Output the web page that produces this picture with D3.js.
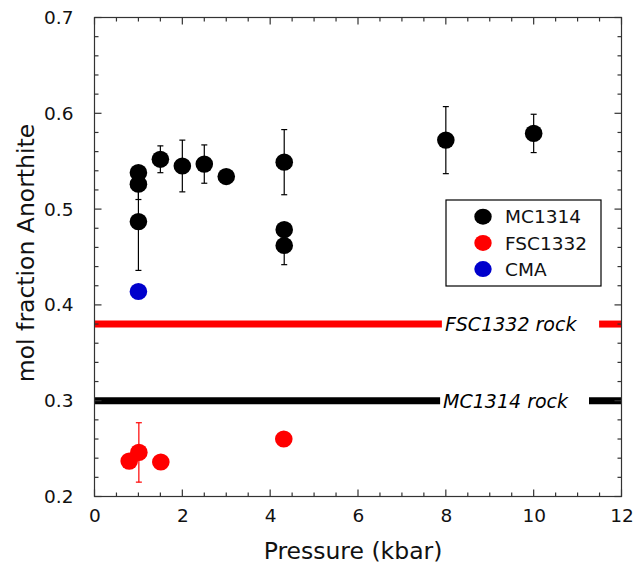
<!DOCTYPE html>
<html>
<head>
<meta charset="utf-8">
<script src="https://cdn.jsdelivr.net/npm/d3@7"></script>
<style>
  html, body { margin: 0; padding: 0; background: #fff; }
  text { font-family: "DejaVu Sans", Verdana, sans-serif; }
</style>
</head>
<body>
<svg id="chart" width="644" height="571"></svg>
<script>
// ---- data ----
const xTicks = [0, 2, 4, 6, 8, 10, 12];
const yTicks = [0.2, 0.3, 0.4, 0.5, 0.6, 0.7];
const xTickLabels = ["0", "2", "4", "6", "8", "10", "12"];
const yTickLabels = ["0.2", "0.3", "0.4", "0.5", "0.6", "0.7"];

// MC1314: pressure, anorthite, error (null = no bar)
const mcPressure = [1.0, 1.0, 1.0, 1.5, 2.0, 2.5, 3.0, 4.32, 4.32, 4.32, 8.0, 10.0];
const mcAn       = [0.538, 0.526, 0.487, 0.552, 0.545, 0.547, 0.534, 0.549, 0.4785, 0.462, 0.572, 0.579];
const mcErr      = [null, 0.016, 0.051, 0.014, 0.027, 0.020, null, 0.034, null, 0.020, 0.035, 0.020];

const fscPressure = [0.79, 1.01, 1.51, 4.31];
const fscAn       = [0.237, 0.246, 0.236, 0.260];
const fscErr      = [null, 0.031, null, null];

const cmaPressure = [1.0];
const cmaAn       = [0.414];

const rockNames  = ["FSC1332 rock", "MC1314 rock"];
const rockValues = [0.38, 0.30];
const rockGapStart = [7.91, 7.87];
const rockGapEnd   = [11.49, 11.26];

const legendNames = ["MC1314", "FSC1332", "CMA"];

(function () {
// ---- styles ----
const colors = { MC1314: "#000000", FSC1332: "#ff0000", CMA: "#0000cc" };
const rockColors = ["#ff0000", "#000000"];

const svg = d3.select("#chart");
const pL = 94.5, pR = 621.5, pT = 17.5, pB = 496.5;

const x = d3.scaleLinear().domain([0, 12]).range([pL, pR]);
const y = d3.scaleLinear().domain([0.2, 0.7]).range([pB, pT]);

// rock lines (drawn first)
rockNames.forEach((name, i) => {
  const yy = y(rockValues[i]);
  svg.append("line").attr("x1", x(0)).attr("x2", x(rockGapStart[i]))
    .attr("y1", yy).attr("y2", yy).attr("stroke", rockColors[i]).attr("stroke-width", 7);
  svg.append("line").attr("x1", x(rockGapEnd[i])).attr("x2", x(12))
    .attr("y1", yy).attr("y2", yy).attr("stroke", rockColors[i]).attr("stroke-width", 7);
  svg.append("text").attr("x", x(rockGapStart[i]) + 3).attr("y", yy)
    .attr("dy", "0.36em").attr("font-size", 19).attr("font-style", "italic")
    .attr("fill", "#000").text(name);
});

// frame + ticks (inward on all sides)
svg.append("rect").attr("x", pL).attr("y", pT)
  .attr("width", pR - pL).attr("height", pB - pT)
  .attr("fill", "none").attr("stroke", "#333").attr("stroke-width", 1.2);

const xMinor = d3.range(0, 12.001, 0.5);
const yMinor = d3.range(0.2, 0.7001, 0.02);
const isMajorX = v => Math.abs(v / 2 - Math.round(v / 2)) < 1e-6;
const isMajorY = v => Math.abs(v * 10 - Math.round(v * 10)) < 1e-6;

const tickG = svg.append("g").attr("stroke", "#333").attr("stroke-width", 1.2);
xMinor.forEach(v => {
  const L = isMajorX(v) ? 7 : 4;
  tickG.append("line").attr("x1", x(v)).attr("x2", x(v)).attr("y1", pB).attr("y2", pB - L);
  tickG.append("line").attr("x1", x(v)).attr("x2", x(v)).attr("y1", pT).attr("y2", pT + L);
});
yMinor.forEach(v => {
  const L = isMajorY(v) ? 7 : 4;
  tickG.append("line").attr("y1", y(v)).attr("y2", y(v)).attr("x1", pL).attr("x2", pL + L);
  tickG.append("line").attr("y1", y(v)).attr("y2", y(v)).attr("x1", pR).attr("x2", pR - L);
});

// tick labels via d3 axes (hide lines)
const xAxis = d3.axisBottom(x).tickValues(xTicks).tickFormat((d, i) => xTickLabels[i]).tickSize(0).tickPadding(12);
const yAxis = d3.axisLeft(y).tickValues(yTicks).tickFormat((d, i) => yTickLabels[i]).tickSize(0).tickPadding(21);
const gx = svg.append("g").attr("transform", `translate(0,${pB})`).call(xAxis);
const gy = svg.append("g").attr("transform", `translate(${pL},0)`).call(yAxis);
[gx, gy].forEach(g => {
  g.select(".domain").remove();
  g.selectAll("text").attr("font-size", 18.5).attr("fill", "#111")
    .attr("font-family", "DejaVu Sans, Verdana, sans-serif");
});

// axis titles
svg.append("text").attr("x", (pL + pR) / 2 - 5).attr("y", 559)
  .attr("text-anchor", "middle").attr("font-size", 23.5).attr("fill", "#111")
  .text("Pressure (kbar)");
svg.append("text").attr("transform", `translate(34,${(pT + pB) / 2 - 4}) rotate(-90)`)
  .attr("text-anchor", "middle").attr("font-size", 23.5).attr("fill", "#111")
  .text("mol fraction Anorthite");

// error bars + points
function drawSeries(px, py, pe, color) {
  const g = svg.append("g");
  px.forEach((p, i) => {
    if (pe && pe[i] != null) {
      const cx = x(p), y1 = y(py[i] - pe[i]), y2 = y(py[i] + pe[i]);
      g.append("line").attr("x1", cx).attr("x2", cx).attr("y1", y1).attr("y2", y2)
        .attr("stroke", color).attr("stroke-width", 1.2);
      [y1, y2].forEach(yy => g.append("line").attr("x1", cx - 3).attr("x2", cx + 3)
        .attr("y1", yy).attr("y2", yy).attr("stroke", color).attr("stroke-width", 1.2));
    }
  });
  px.forEach((p, i) => {
    g.append("ellipse").attr("cx", x(p)).attr("cy", y(py[i]))
      .attr("rx", 8.8).attr("ry", 8.6).attr("fill", color);
  });
}
drawSeries(mcPressure, mcAn, mcErr, colors.MC1314);
drawSeries(fscPressure, fscAn, fscErr, colors.FSC1332);
drawSeries(cmaPressure, cmaAn, null, colors.CMA);

// legend
const lg = svg.append("g");
lg.append("rect").attr("x", 446).attr("y", 200).attr("width", 155).attr("height", 86)
  .attr("fill", "#fff").attr("stroke", "#000").attr("stroke-width", 1.2);
legendNames.forEach((n, i) => {
  const yy = 216.7 + i * 26.2;
  lg.append("ellipse").attr("cx", 483).attr("cy", yy).attr("rx", 8.7).attr("ry", 8)
    .attr("fill", colors[n]);
  lg.append("text").attr("x", 505).attr("y", yy).attr("dy", "0.36em")
    .attr("font-size", 18.5).attr("fill", "#111").text(n);
});
})();
</script>
</body>
</html>
